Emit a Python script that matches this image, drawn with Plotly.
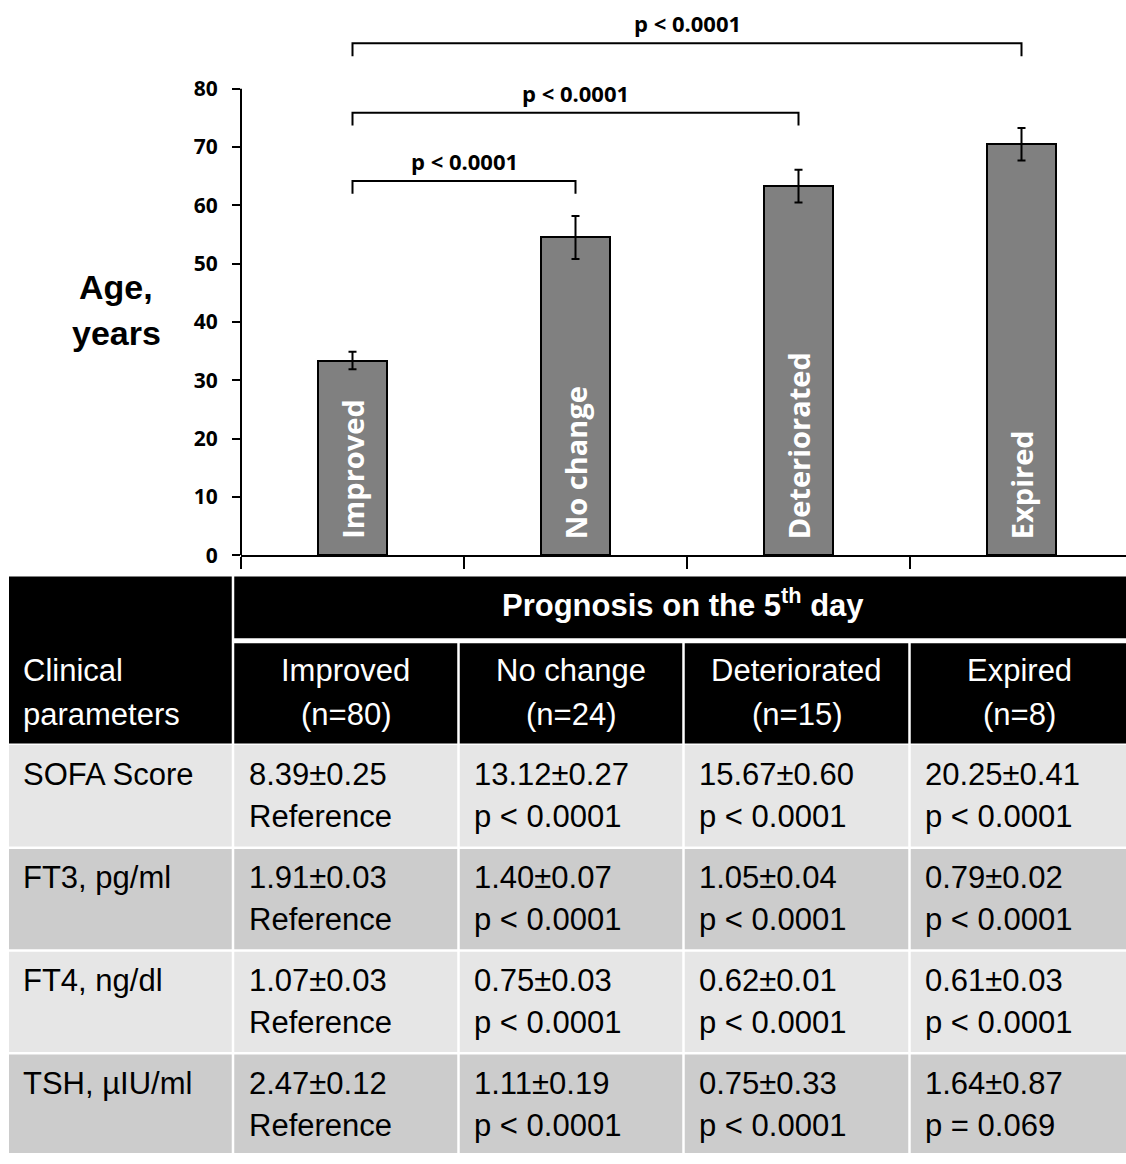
import plotly.graph_objects as go

# ---------------- data ----------------
categories = ["Improved", "No change", "Deteriorated", "Expired"]
age_mean = [33.4, 54.5, 63.3, 70.5]
age_sem = [1.5, 3.7, 2.8, 2.8]
group_n = [80, 24, 15, 8]

comparisons = [(0, 1), (0, 2), (0, 3)]
comparison_p = ["p < 0.0001", "p < 0.0001", "p < 0.0001"]

param_names = ["SOFA Score", "FT3, pg/ml", "FT4, ng/dl", "TSH, µIU/ml"]
param_mean = [
    [8.39, 13.12, 15.67, 20.25],
    [1.91, 1.40, 1.05, 0.79],
    [1.07, 0.75, 0.62, 0.61],
    [2.47, 1.11, 0.75, 1.64],
]
param_sem = [
    [0.25, 0.27, 0.60, 0.41],
    [0.03, 0.07, 0.04, 0.02],
    [0.03, 0.03, 0.01, 0.03],
    [0.12, 0.19, 0.33, 0.87],
]
param_p = [
    ["Reference", "p < 0.0001", "p < 0.0001", "p < 0.0001"],
    ["Reference", "p < 0.0001", "p < 0.0001", "p < 0.0001"],
    ["Reference", "p < 0.0001", "p < 0.0001", "p < 0.0001"],
    ["Reference", "p < 0.0001", "p < 0.0001", "p = 0.069"],
]

# ---------------- layout constants ----------------
W, H = 1126, 1164
ARIAL = "Liberation Sans, Arial, sans-serif"
OPEN = "Open Sans, sans-serif"

X0_PX = 241.0          # left edge of the bar plot
CAT_PX = 223.0         # width of one category
Y0_PX = 561.5          # pixel row of age 0
PX_PER_YEAR = 5.896

bracket_levels = [64.2, 75.9, 87.8]
bracket_leg = 2.2

col_edges = [9, 233, 458.5, 683.5, 909.5, 1130]
GAP = 2.5
head1 = (583, 645.5)
head2 = (650.5, 752)
row_tops = [753.5, 858.5, 962.5, 1066.5]
row_fill = ["#e6e6e6", "#cccccc", "#e6e6e6", "#cccccc"]


def pxx(x):
    return x / W


def pxy(y):
    return 1 - y / H


x_pos = list(range(len(categories)))

fig = go.Figure()
fig.add_trace(go.Bar(
    x=x_pos, y=age_mean, width=0.31,
    marker=dict(color="#808080", line=dict(color="black", width=2)),
    error_y=dict(type="data", array=age_sem, visible=True,
                 color="black", thickness=2, width=4),
    showlegend=False, hoverinfo="skip",
))

# group names written inside the bars
for i, name in enumerate(categories):
    fig.add_annotation(
        x=x_pos[i], y=0, xref="x", yref="y", text=name, showarrow=False,
        textangle=-90, xanchor="center", yanchor="bottom", yshift=14,
        font=dict(family=OPEN, size=29, color="white", weight="bold"),
    )

# significance brackets
for (a, b), level, ptxt in zip(comparisons, bracket_levels, comparison_p):
    fig.add_shape(
        type="path", xref="x", yref="y",
        path=f"M {a},{level - bracket_leg} L {a},{level} L {b},{level} L {b},{level - bracket_leg}",
        line=dict(color="black", width=2),
    )
    fig.add_annotation(
        x=(a + b) / 2, y=level, xref="x", yref="y", text=ptxt, showarrow=False,
        xanchor="center", yanchor="middle", yshift=20,
        font=dict(family=OPEN, size=22, color="black", weight="bold"),
    )

# y axis line (0 to 80 only)
fig.add_shape(type="line", xref="paper", yref="y", x0=pxx(X0_PX), x1=pxx(X0_PX),
              y0=0, y1=80, line=dict(color="black", width=2))

# y axis title
for txt, base in [("Age,", 303), ("years", 350)]:
    fig.add_annotation(
        x=pxx(116), y=pxy(base + 0.212 * 34 + 1), xref="paper", yref="paper",
        text=txt, showarrow=False, xanchor="center", yanchor="bottom",
        font=dict(family=ARIAL, size=34, color="black", weight="bold"),
    )

# ---------------- table ----------------
def rect(x0, y0, x1, y1, color):
    fig.add_shape(type="rect", xref="paper", yref="paper",
                  x0=pxx(x0), x1=pxx(x1), y0=pxy(y1), y1=pxy(y0),
                  fillcolor=color, line=dict(width=0), layer="above")


def put_text(x, baseline, s, size=31, bold=False, color="black", xanchor="left"):
    fig.add_annotation(
        x=pxx(x), y=pxy(baseline + 0.212 * size + 1), xref="paper", yref="paper",
        text=s, showarrow=False, xanchor=xanchor, yanchor="bottom",
        font=dict(family=ARIAL, size=size, color=color,
                  weight="bold" if bold else "normal"),
    )


def cell_x(i):
    left = col_edges[i] + (GAP / 2 if i > 0 else 0)
    right = col_edges[i + 1] - GAP / 2
    return left, right


# header
rect(col_edges[0], head1[0], col_edges[1] - GAP / 2, head2[1], "black")
rect(col_edges[1] + GAP / 2, head1[0], col_edges[-1], head1[1], "black")
for j in range(len(categories)):
    l, r = cell_x(j + 1)
    rect(l, head2[0], r, head2[1], "black")
    put_text((l + r) / 2, 690.7, categories[j], color="white", xanchor="center")
    put_text((l + r) / 2, 735, f"(n={group_n[j]})", color="white", xanchor="center")

put_text(21, 690.7, "Clinical", color="white")
put_text(21, 735, "parameters", color="white")
put_text(683, 624, "Prognosis on the 5<sup>th</sup> day", size=31, bold=True, color="white",
         xanchor="center")

# body rows
for k, name in enumerate(param_names):
    top = row_tops[k]
    bottom = row_tops[k + 1] - GAP if k + 1 < len(row_tops) else H + 2
    for i in range(len(col_edges) - 1):
        l, r = cell_x(i)
        rect(l, top, r, bottom, row_fill[k])
    put_text(21, top + 41.5, name)
    for j in range(len(categories)):
        l, _ = cell_x(j + 1)
        put_text(l + 12.5, top + 41.5, f"{param_mean[k][j]:.2f}±{param_sem[k][j]:.2f}")
        put_text(l + 12.5, top + 84, param_p[k][j])

fig.update_layout(
    width=W, height=H, autosize=False,
    margin=dict(l=0, r=0, t=0, b=0),
    paper_bgcolor="white", plot_bgcolor="white",
    bargap=0,
    xaxis=dict(
        domain=[pxx(X0_PX), 1],
        range=[-0.5, (W - X0_PX) / CAT_PX - 0.5],
        tickmode="array", tickvals=[-0.5, 0.5, 1.5, 2.5, 3.5],
        showticklabels=False, ticks="outside", ticklen=12, tickwidth=2,
        tickcolor="black", showline=True, linecolor="black", linewidth=2,
        showgrid=False, zeroline=False, fixedrange=True,
    ),
    yaxis=dict(
        domain=[pxy(Y0_PX), 1],
        range=[0, Y0_PX / PX_PER_YEAR],
        tickmode="array", tickvals=list(range(0, 81, 10)),
        ticks="outside", ticklen=8, tickwidth=2, tickcolor="black",
        tickfont=dict(family=OPEN, size=21, color="black", weight="bold"),
        ticklabelstandoff=10,
        showline=False, showgrid=False, zeroline=False, fixedrange=True,
    ),
)

fig.write_html("out.html")
